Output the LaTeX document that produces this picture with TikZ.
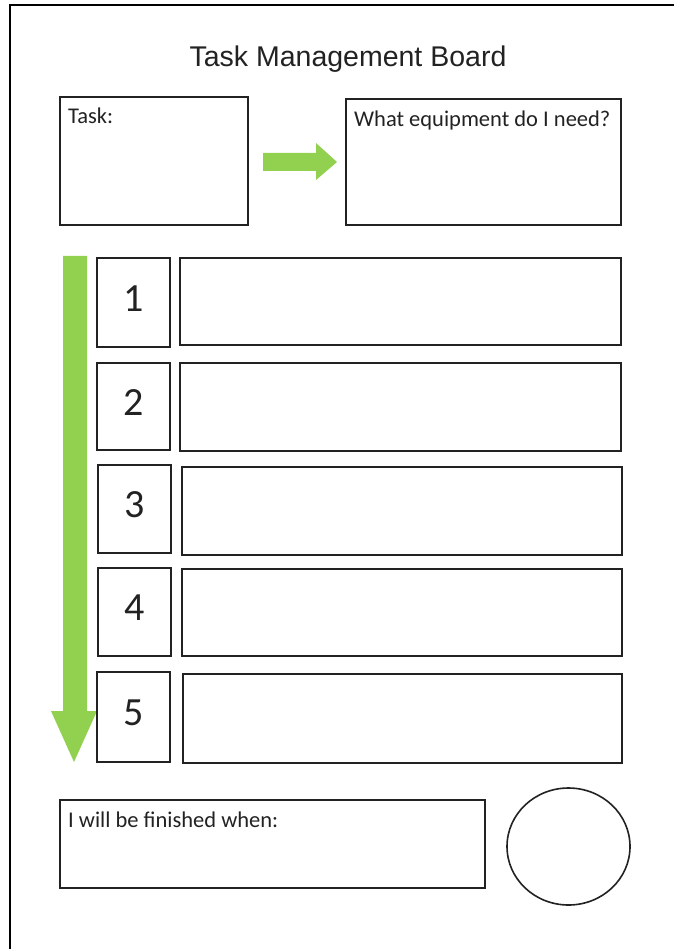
\documentclass[tikz,border=0pt]{standalone}
\usepackage{fontspec}
\setmainfont{Carlito}
\newfontfamily\headfont{Liberation Sans}
\definecolor{leafgreen}{RGB}{146,208,80}
\definecolor{boxline}{RGB}{34,34,34}
\begin{document}
\begin{tikzpicture}[x=1pt,y=-1pt,
  panel/.style={draw=boxline, line width=1.6pt, inner sep=0pt, outer sep=0pt, anchor=north west},
  numbox/.style={panel, minimum width=73, minimum height=89},
  rowbox/.style={panel, minimum width=441, minimum height=88},
  label/.style={inner sep=0pt, anchor=base west, font=\fontsize{22.5}{27}\selectfont, text=boxline},
  digit/.style={inner sep=0pt, yshift=4pt, font=\fontsize{40}{48}\selectfont, text=boxline},
  blockarrow/.style={fill=leafgreen, draw=none}]
\useasboundingbox (0,0) rectangle (673,949);
\fill[white] (0,0) rectangle (673,949);

% page edge
\draw[line width=2.2pt, line cap=rect] (10,949) -- (10,5) -- (673,5);

% heading
\node[inner sep=0pt, anchor=base, font=\headfont\fontsize{28.5}{34}\selectfont, text=boxline] (title) at (348,67) {Task Management Board};

% task and equipment panels
\node[panel, minimum width=188, minimum height=128] (task) at (60,97) {};
\node[label] (tasklbl) at (68,124) {Task:};
\node[panel, minimum width=275, minimum height=126] (equip) at (346,99) {};
\node[label] (equiplbl) at (354,127) {What equipment do I need?};

% arrow from task to equipment
\fill[blockarrow] (263,153) -- (316,153) -- (316,143) -- (337,162) -- (316,180) -- (316,171) -- (263,171) -- cycle;

% downward arrow along the steps
\fill[blockarrow] (63,256) -- (87,256) -- (87,711) -- (97,711) -- (74,762) -- (51,711) -- (63,711) -- cycle;

% numbered steps
\node[numbox, minimum height=89] (n1) at (97,258) {};
\node[rowbox, minimum height=87] (r1) at (180,258) {};
\node[numbox, minimum height=87] (n2) at (97,363) {};
\node[rowbox, minimum height=88] (r2) at (180,363) {};
\node[numbox, minimum height=88] (n3) at (98,465) {};
\node[rowbox, minimum width=440] (r3) at (182,467) {};
\node[numbox, minimum height=88] (n4) at (98,568) {};
\node[rowbox, minimum width=440, minimum height=87] (r4) at (182,569) {};
\node[numbox, minimum height=90] (n5) at (97,672) {};
\node[rowbox, minimum width=439, minimum height=89] (r5) at (183,674) {};

\node[digit] at (n1.center) {1};
\node[digit] at (n2.center) {2};
\node[digit] at (n3.center) {3};
\node[digit] at (n4.center) {4};
\node[digit] at (n5.center) {5};

% finishing condition and tick circle
\node[panel, minimum width=425, minimum height=88] (done) at (60,800) {};
\node[label] (donelbl) at (68,827) {I will be finished when:};
\draw[boxline, line width=1.6pt] (568.5,846.5) ellipse [x radius=61.5, y radius=58.5];
\end{tikzpicture}
\end{document}
